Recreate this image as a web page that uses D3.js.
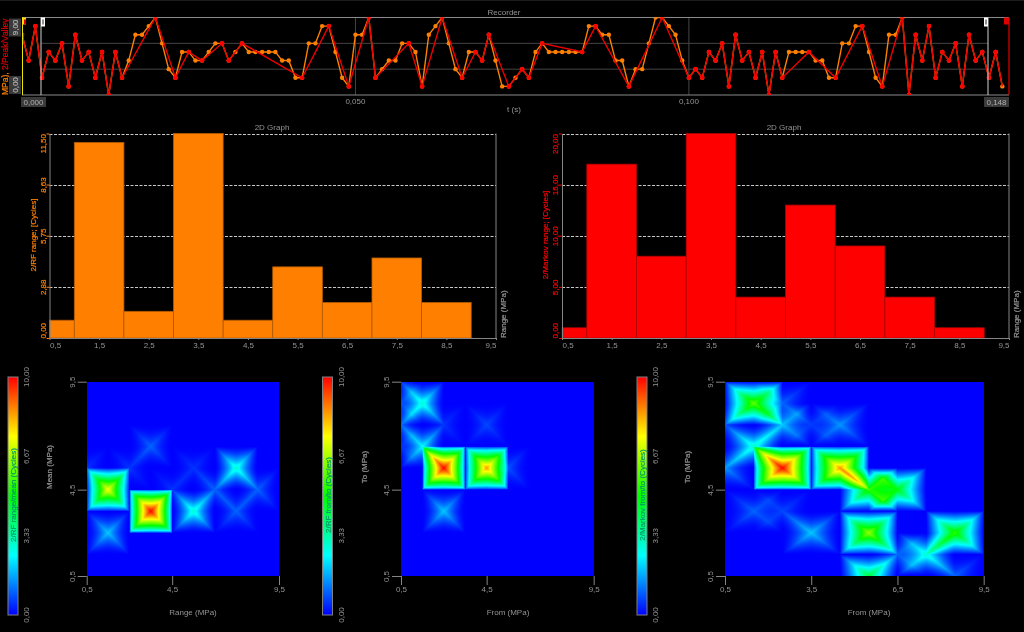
<!DOCTYPE html>
<html>
<head>
<meta charset="utf-8">
<script src="https://d3js.org/d3.v7.min.js"></script>
<style>
  html, body { margin: 0; padding: 0; background: #000; overflow: hidden; }
  #page { position: relative; width: 1024px; height: 632px; }
  canvas, svg { position: absolute; left: 0; top: 0; }
  text { font-family: "Liberation Sans", Arial, sans-serif; font-size: 8px; fill: #949494; }
</style>
</head>
<body>
<div id="page"></div>
<script>
// one sample per millisecond
var signal = [
  7, 4, 8, 2, 5, 4, 6, 1, 7, 4, 5, 2, 5, 0, 5, 2, 4, 7, 7, 8,
  9, 6, 3, 2, 5, 5, 4, 4, 5, 6, 6, 4, 5, 6, 5, 5, 5, 5, 5, 4,
  4, 2, 2, 6, 6, 8, 8, 5, 2, 1, 7, 7, 9, 2, 3, 4, 4, 6, 6, 5,
  1, 7, 8, 9, 6, 3, 2, 5, 5, 4, 7, 4, 1, 1, 2, 3, 2, 5, 6, 5,
  5, 5, 5, 5, 5, 8, 8, 7, 7, 4, 4, 1, 3, 3, 6, 9, 9, 8, 7, 4,
  2, 3, 2, 5, 4, 6, 1, 7, 4, 5, 2, 5, 0, 5, 2, 5, 5, 5, 5, 4,
  4, 2, 2, 6, 6, 8, 8, 5, 2, 1, 7, 7, 9, 0, 7, 4, 8, 2, 5, 4,
  6, 1, 7, 4, 5, 2, 5, 1
];
var turning_points = [
  0, 1, 2, 3, 4, 5, 6, 7, 8, 9, 10, 11, 12, 13, 14, 15, 20, 23, 25, 27, 30, 31, 33, 42, 46,
  49, 52, 53, 58, 60, 63, 66, 68, 69, 70, 73, 75, 76, 78, 84, 86, 91, 96, 100, 101, 102,
  103, 104, 105, 106, 107, 108, 109, 110, 111, 112, 113, 114, 118, 122, 126, 129, 132, 133,
  134, 135, 136, 137, 138, 139, 140, 141, 142, 143, 144, 145, 146, 147
];

var range_bins = [0.5, 1.5, 2.5, 3.5, 4.5, 5.5, 6.5, 7.5, 8.5, 9.5];
var rf_range_cycles = [1, 11, 1.5, 11.5, 1, 4, 2, 4.5, 2, 0];
var markov_range_cycles = [1, 17, 8, 20, 4, 13, 9, 4, 1, 0];

var rf_ticks = [0, 2.88, 5.75, 8.63, 11.5];
var markov_ticks = [0, 5, 10, 15, 20];
var colorbar_ticks = [0, 3.33, 6.67, 10];

// rows run from the top of the map (9,5) to the bottom (0,5)
var rf_range_mean = [
  [0,   0,   0,   0,  0,   0,   0, 0, 0, 0],
  [0,   0,   0,   0,  0,   0,   0, 0, 0, 0],
  [0,   0,   0,   0,  0,   0,   0, 0, 0, 0],
  [0,   0,   0,   1,  0,   0,   0, 0, 0, 0],
  [0.5, 0,   0.5, 0,  0,   0.5, 0, 3, 0, 0],
  [0,   7.5, 0,   0,  0.5, 0,   1, 0, 1, 0],
  [0,   0,   0,   10, 0,   3,   0, 1, 0, 0],
  [0,   2,   0,   0,  0,   0,   0, 0, 0, 0],
  [0,   0,   0,   0,  0,   0,   0, 0, 0, 0],
  [0,   0,   0,   0,  0,   0,   0, 0, 0, 0]
];
var rf_from_to = [
  [0.5, 0,   0,   0, 0,   0,   0, 0, 0, 0],
  [0.8, 3,   0,   0, 0,   0,   0, 0, 0, 0],
  [1,   0,   0.5, 0, 0.7, 0,   0, 0, 0, 0],
  [0.5, 2.5, 0,   0, 0,   0,   0, 0, 0, 0],
  [0,   0,   10,  0, 8.5, 0.8, 0, 0, 0, 0],
  [0,   0,   0,   0, 0,   0,   0, 0, 0, 0],
  [0,   0,   2,   0, 0,   0,   0, 0, 0, 0],
  [0,   0,   0,   0, 0,   0,   0, 0, 0, 0],
  [0,   0,   0,   0, 0,   0,   0, 0, 0, 0],
  [0,   0,   0,   0, 0,   0,   0, 0, 0, 0]
];
var markov_from_to = [
  [0,   0,   0,   0,   0,   0,   0,   0, 0,   0],
  [0,   6,   1,   0,   0,   0,   0,   0, 0,   0],
  [0.7, 0,   2,   0.6, 1.5, 0,   0,   0, 0,   0],
  [0,   3,   0,   0,   0,   0,   0,   0, 0,   0],
  [1.5, 0,   10,  0,   8.5, 0,   0,   0, 0,   0],
  [0,   0,   0,   0,   0,   5.5, 5,   0, 0,   0],
  [0,   1,   0.7, 0,   0,   0,   0,   0, 0,   0],
  [0,   0,   0,   2,   0,   6.5, 0,   0, 5.5, 0],
  [0,   0,   0,   0,   0,   0,   1,   3, 0,   0],
  [0,   0,   0,   0,   0,   4.5, 0,   0, 1,   0]
];

var settings = {
  width: 1024,
  height: 632,
  axis_color: '#858585',
  grid_color: '#454545',
  dash_color: '#c8c8c8',
  orange: '#ff8000',
  orange_edge: '#b35a00',
  red: '#ff0000',
  red_edge: '#b00000',
  recorder: { left: 22, right: 1009, top: 17.5, bottom: 95, cursor_a: 41, cursor_b: 988 },
  bars_top: 133.5,
  bars_bottom: 338,
  map_top: 381.7,
  map_bottom: 576,
  bar_top: 377,
  bar_bottom: 615
};

var comma = d3.formatLocale({ decimal: ',', thousands: '.', grouping: [3], currency: ['', ''] });
var fmt1 = comma.format('.1f'), fmt2 = comma.format('.2f'), fmt3 = comma.format('.3f');

var page = d3.select('#page');
var canvas = page.append('canvas').attr('width', settings.width).attr('height', settings.height);
var svg = page.append('svg').attr('width', settings.width).attr('height', settings.height);

svg.append('line').attr('x1', 0).attr('x2', 1024).attr('y1', 0.5).attr('y2', 0.5).style('stroke', '#1c1c1c');

var jet_domain = [0, 2.5, 5, 7.5, 10];
var jet_colors = ['#0000ff', '#00ffff', '#00ff00', '#ffff00', '#ff0000'];
var jet = d3.scaleLinear().domain(jet_domain).range(jet_colors).clamp(true);

/////////////////////////////////////////////////////////////////////////////////////////////////////

function rotated_label(parent, x, y, label, color, anchor) {
  return parent.append('text')
    .attr('transform', 'translate(' + x + ',' + y + ') rotate(-90)')
    .style('text-anchor', anchor || 'middle')
    .style('fill', color || null)
    .style('stroke', color || '#949494')
    .style('stroke-width', 0.2)
    .text(label);
}

function centered_label(parent, x, y, label) {
  return parent.append('text')
    .attr('x', x)
    .attr('y', y)
    .style('text-anchor', 'middle')
    .text(label);
}

function style_axis(g) {
  g.select('.domain').style('stroke', settings.axis_color);
  g.selectAll('.tick line').style('stroke', settings.axis_color);
}

/////////////////////////////////////////////////////////////////////////////////////////////////////

function draw_recorder() {
  var r = settings.recorder;
  var x = d3.scaleLinear().domain([0, 0.148]).range([r.left, r.right]);
  var y = d3.scaleLinear().domain([0, 9]).range([r.bottom, r.top]);
  var g = svg.append('g');

  g.append('clipPath').attr('id', 'recorder-clip').append('rect')
    .attr('x', r.left).attr('y', r.top)
    .attr('width', r.right - r.left).attr('height', r.bottom - r.top);
  g.append('clipPath').attr('id', 'title-clip').append('rect')
    .attr('x', 0).attr('y', r.top)
    .attr('width', r.left).attr('height', r.bottom - r.top);

  g.selectAll('line.hgrid').data([3, 6]).enter().append('line')
    .attr('class', 'hgrid')
    .attr('x1', r.cursor_a).attr('x2', r.cursor_b)
    .attr('y1', function(d) { return y(d); })
    .attr('y2', function(d) { return y(d); })
    .style('stroke', settings.grid_color);

  g.selectAll('line.vgrid').data([0.05, 0.1]).enter().append('line')
    .attr('class', 'vgrid')
    .attr('x1', function(d) { return x(d); })
    .attr('x2', function(d) { return x(d); })
    .attr('y1', r.top).attr('y2', r.bottom)
    .style('stroke', settings.grid_color);

  [r.top, r.bottom].forEach(function(edge) {
    g.append('line').attr('x1', r.left).attr('x2', r.right).attr('y1', edge).attr('y2', edge)
      .style('stroke', '#8a8a8a');
  });

  var line = d3.line()
    .x(function(d) { return x(d * 0.001); })
    .y(function(d) { return y(signal[d]); });

  var plot = g.append('g').attr('clip-path', 'url(#recorder-clip)');

  var all_samples = d3.range(signal.length);
  plot.append('path').datum(all_samples)
    .attr('d', line)
    .style('fill', 'none')
    .style('stroke', settings.orange)
    .style('stroke-width', 1.4);
  plot.selectAll('circle.sample').data(all_samples).enter().append('circle')
    .attr('class', 'sample')
    .attr('cx', function(d) { return x(d * 0.001); })
    .attr('cy', function(d) { return y(signal[d]); })
    .attr('r', 2.2)
    .style('fill', settings.orange);

  plot.append('path').datum(turning_points)
    .attr('d', line)
    .style('fill', 'none')
    .style('stroke', '#ee0000')
    .style('stroke-width', 1.4);
  plot.selectAll('circle.turn').data(turning_points.slice(0, -1)).enter().append('circle')
    .attr('class', 'turn')
    .attr('cx', function(d) { return x(d * 0.001); })
    .attr('cy', function(d) { return y(signal[d]); })
    .attr('r', 2.3)
    .style('fill', settings.red);

  // cursors
  g.append('line').attr('x1', r.left + 0.5).attr('x2', r.left + 0.5).attr('y1', r.top).attr('y2', r.bottom)
    .style('stroke', '#e8e800');
  g.append('rect').attr('x', r.left).attr('y', r.top).attr('width', 4).attr('height', 7).style('fill', '#ffe000');
  g.append('rect').attr('x', r.left + 2).attr('y', r.top + 2).attr('width', 2).attr('height', 5).style('fill', '#e00000');
  [r.cursor_a, r.cursor_b].forEach(function(cx, i) {
    g.append('line').attr('x1', cx).attr('x2', cx).attr('y1', r.top).attr('y2', r.bottom)
      .style('stroke', '#d0d0d0');
    g.append('rect').attr('x', i ? cx - 4 : cx).attr('y', r.top).attr('width', 4).attr('height', 9).style('fill', '#ffffff');
    g.append('rect').attr('x', i ? cx - 3 : cx + 1).attr('y', r.top + 2).attr('width', 2).attr('height', 5).style('fill', '#909090');
  });
  g.append('line').attr('x1', r.right).attr('x2', r.right).attr('y1', r.top).attr('y2', r.bottom)
    .style('stroke', '#e00000').style('stroke-width', 1.2);
  g.append('rect').attr('x', r.right - 5).attr('y', r.top).attr('width', 5).attr('height', 7).style('fill', '#e00000');

  // clipped title, same as the original strip
  var title_group = g.append('g').attr('clip-path', 'url(#title-clip)');
  var title = rotated_label(title_group, 8, r.bottom, '', settings.orange, 'start').style('font-size', '8.5px');
  title.append('tspan').style('fill', settings.orange).text('MPa),');
  title.append('tspan').style('fill', '#e00000').style('stroke', '#e00000').text(' 2/Peak/Valley (');

  // y labels sit on grey plates
  [[0, r.bottom - 19], [9, r.top + 1]].forEach(function(d) {
    g.append('rect').attr('x', 9).attr('y', d[1]).attr('width', 12).attr('height', 18).style('fill', '#3a3a3a');
    rotated_label(g, 18, d[1] + 9, fmt2(d[0]), '#b0b0b0');
  });

  // x labels
  [0.05, 0.1].forEach(function(t) {
    centered_label(g, x(t), 104, fmt3(t));
  });
  [[33.5, 0], [996.5, 0.148]].forEach(function(d) {
    g.append('rect').attr('x', d[0] - 12.5).attr('y', 97).attr('width', 25).attr('height', 10).style('fill', '#3a3a3a');
    centered_label(g, d[0], 105, fmt3(d[1])).style('fill', '#b0b0b0');
  });
  centered_label(g, 514, 112, 't (s)');
  centered_label(g, 504, 15, 'Recorder');
}

/////////////////////////////////////////////////////////////////////////////////////////////////////

function draw_histogram(opt) {
  var g = svg.append('g');
  var x = d3.scaleLinear().domain([0.5, 9.5]).range([opt.left, opt.right]).clamp(true);
  var y = d3.scaleLinear().domain([0, opt.max]).range([settings.bars_bottom, settings.bars_top]);

  g.selectAll('line.grid').data(opt.ticks.slice(1)).enter().append('line')
    .attr('class', 'grid')
    .attr('x1', opt.left).attr('x2', opt.right)
    .attr('y1', function(d) { return Math.round(y(d)) + 0.5; })
    .attr('y2', function(d) { return Math.round(y(d)) + 0.5; })
    .style('stroke', settings.dash_color)
    .style('stroke-dasharray', '3,1.5');

  g.selectAll('rect.bar').data(opt.values).enter().append('rect')
    .attr('class', 'bar')
    .attr('x', function(d, i) { return x(range_bins[i] - 0.5); })
    .attr('width', function(d, i) { return x(range_bins[i] + 0.5) - x(range_bins[i] - 0.5); })
    .attr('y', function(d) { return y(d); })
    .attr('height', function(d) { return y(0) - y(d); })
    .style('fill', opt.color)
    .style('stroke', opt.edge)
    .style('stroke-width', 0.8);

  var bottom = g.append('g')
    .attr('transform', 'translate(0,' + settings.bars_bottom + ')')
    .call(d3.axisBottom(x).tickValues(range_bins).tickFormat(fmt1).tickSize(2).tickSizeOuter(0));
  bottom.call(style_axis);
  bottom.selectAll('text')
    .attr('y', 7)
    .attr('dy', '0.32em')
    .style('text-anchor', function(d) { return d === 0.5 ? 'start' : d === 9.5 ? 'end' : 'middle'; });

  var left = g.append('g')
    .attr('transform', 'translate(' + opt.left + ',0)')
    .call(d3.axisLeft(y).tickValues(opt.ticks).tickFormat(fmt2).tickSize(3).tickSizeOuter(0));
  left.select('.domain').style('stroke', settings.axis_color);
  left.selectAll('.tick line').style('stroke', opt.color);
  left.selectAll('text')
    .attr('x', 0).attr('dy', 0)
    .attr('transform', 'translate(-4,0) rotate(-90)')
    .style('fill', opt.color)
    .style('stroke', opt.color)
    .style('stroke-width', 0.2)
    .style('text-anchor', function(d, i) { return i === 0 ? 'start' : i === opt.ticks.length - 1 ? 'end' : 'middle'; });

  g.append('line').attr('x1', opt.right).attr('x2', opt.right)
    .attr('y1', settings.bars_top).attr('y2', settings.bars_bottom)
    .style('stroke', settings.axis_color);

  centered_label(g, opt.title_x, 130, '2D Graph');
  rotated_label(g, opt.y_title_x, 235, opt.y_title, opt.color);
  rotated_label(g, opt.right + 10, settings.bars_bottom, 'Range (MPa)', null, 'start');
}

/////////////////////////////////////////////////////////////////////////////////////////////////////

function draw_heatmap(ctx, opt) {
  var g = svg.append('g');
  var x = d3.scaleLinear().domain([0.5, 9.5]).range([opt.left, opt.right]);
  var y = d3.scaleLinear().domain([0.5, 9.5]).range([settings.map_bottom, settings.map_top]);

  // every cell is a pyramid on its node; small values fall off faster and sag between the diagonals
  var value_at = function(vx, vy) {
    var total = 0;
    var cx = vx - 0.5, cy = vy - 0.5;
    for (var i = Math.max(0, Math.floor(cx)); i <= Math.min(9, Math.ceil(cx)); i++) {
      for (var j = Math.max(0, Math.floor(cy)); j <= Math.min(9, Math.ceil(cy)); j++) {
        var v = opt.matrix[9 - j][i];
        if (!v) continue;
        var du = Math.abs(cx - i), dv = Math.abs(cy - j);
        var far = Math.max(du, dv), near = Math.min(du, dv);
        if (far >= 1) continue;
        var low = 1 - v / 10;
        var diag_power = 0.6 + 0.6 * low;
        var sag = 0.05 + 0.85 * low * low;
        var power = far === 0 ? diag_power : diag_power + sag * (1 - near / far);
        total += v * Math.pow(1 - far, power);
      }
    }
    return total;
  };

  var x0 = Math.round(opt.left), x1 = Math.round(opt.right);
  var y0 = Math.round(settings.map_top), y1 = Math.round(settings.map_bottom);
  for (var py = y0; py < y1; py++) {
    for (var px = x0; px < x1; px++) {
      ctx.fillStyle = jet(value_at(x.invert(px + 0.5), y.invert(py + 0.5)));
      ctx.fillRect(px, py, 1, 1);
    }
  }

  var bottom = g.append('g')
    .attr('transform', 'translate(0,' + settings.map_bottom + ')')
    .call(d3.axisBottom(x).tickValues(opt.x_ticks).tickFormat(fmt1).tickSize(9).tickSizeOuter(0));
  bottom.select('.domain').remove();
  bottom.call(style_axis);
  bottom.selectAll('text').attr('y', 13).attr('dy', '0.32em');

  var left = g.append('g')
    .attr('transform', 'translate(' + opt.left + ',0)')
    .call(d3.axisLeft(y).tickValues([0.5, 4.5, 9.5]).tickFormat(fmt1).tickSize(9).tickSizeOuter(0));
  left.select('.domain').remove();
  left.call(style_axis);
  left.selectAll('text')
    .attr('x', 0).attr('dy', 0)
    .attr('transform', 'translate(-12,0) rotate(-90)')
    .style('text-anchor', 'middle');

  centered_label(g, opt.x_title_x, 615, opt.x_title);
  rotated_label(g, opt.y_title_x, 467, opt.y_title);

  // colour scale
  var c = d3.scaleLinear().domain([0, 10]).range([settings.bar_bottom, settings.bar_top]);
  var gradient = g.append('linearGradient')
    .attr('id', opt.id)
    .attr('x1', 0).attr('x2', 0).attr('y1', 1).attr('y2', 0);
  gradient.selectAll('stop').data(jet_domain).enter().append('stop')
    .attr('offset', function(d) { return d / 10; })
    .attr('stop-color', function(d) { return jet(d); });

  g.append('rect')
    .attr('x', opt.bar_x).attr('y', c(10))
    .attr('width', 10).attr('height', c(0) - c(10))
    .style('fill', 'url(#' + opt.id + ')')
    .style('stroke', '#808080');

  g.selectAll('text.cbar').data(colorbar_ticks).enter().append('text')
    .attr('class', 'cbar')
    .attr('transform', function(d) {
      return 'translate(' + (opt.bar_x + 21) + ',' + c(d) + ') rotate(-90)';
    })
    .style('text-anchor', 'middle')
    .text(fmt2);

  rotated_label(g, opt.bar_x + 8, 495, opt.bar_title, '#009a66');
}

/////////////////////////////////////////////////////////////////////////////////////////////////////

draw_recorder();

draw_histogram({
  left: 49.5, right: 496, max: 11.5, ticks: rf_ticks, values: rf_range_cycles,
  color: settings.orange, edge: settings.orange_edge,
  title_x: 272, y_title_x: 36, y_title: '2/RF range; [Cycles]'
});
draw_histogram({
  left: 562, right: 1009, max: 20, ticks: markov_ticks, values: markov_range_cycles,
  color: settings.red, edge: settings.red_edge,
  title_x: 784, y_title_x: 548, y_title: '2/Markov range; [Cycles]'
});

var ctx = canvas.node().getContext('2d');
draw_heatmap(ctx, {
  id: 'jet-a', matrix: rf_range_mean, left: 86.7, right: 279, x_ticks: [0.5, 4.5, 9.5],
  x_title: 'Range (MPa)', y_title: 'Mean (MPa)', x_title_x: 193, y_title_x: 52,
  bar_x: 8, bar_title: '2/RF range/mean (Cycles)'
});
draw_heatmap(ctx, {
  id: 'jet-b', matrix: rf_from_to, left: 401, right: 593.7, x_ticks: [0.5, 4.5, 9.5],
  x_title: 'From (MPa)', y_title: 'To (MPa)', x_title_x: 508, y_title_x: 367,
  bar_x: 322.5, bar_title: '2/RF from/to (Cycles)'
});
draw_heatmap(ctx, {
  id: 'jet-c', matrix: markov_from_to, left: 725, right: 983.7, x_ticks: [0.5, 3.5, 6.5, 9.5],
  x_title: 'From (MPa)', y_title: 'To (MPa)', x_title_x: 869, y_title_x: 690,
  bar_x: 637, bar_title: '2/Markov from/to (Cycles)'
});
</script>
</body>
</html>
